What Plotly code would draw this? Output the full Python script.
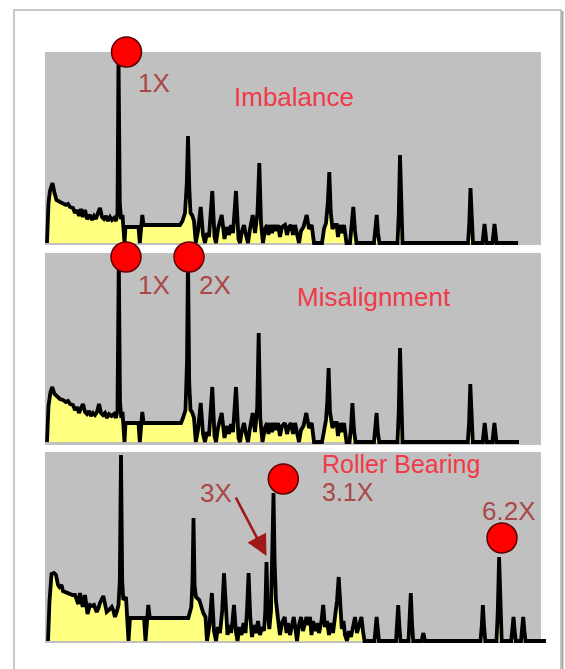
import plotly.graph_objects as go

W, H = 565, 669

# ---------------- data (frequency in px-like units, amplitude) ----------------
f1 = [47, 48.5, 50, 52.5, 54.5, 56.5, 60, 63, 66, 68, 70, 73, 75, 77, 79, 81, 83, 85, 87, 90, 92, 94, 96, 98,
      100, 102, 104, 106, 108, 110, 112, 114, 116, 117.5, 118.5, 119.8, 121, 122.5, 123.5, 124.5, 125.5, 138.5,
      139.8, 141, 142.3, 143.6, 180, 182.5, 185, 186.8, 188, 189.3, 190.5, 192, 194, 195.8,
      198, 200.7, 203, 205, 207, 209, 212.3, 214.5, 216, 218, 221.7, 224.5, 226.5, 229, 231, 233, 236, 238.5,
      240, 242, 244, 246, 248, 250, 252.7, 255, 257.5, 259.3, 261, 263, 265, 267, 268.5, 270, 272, 274, 276,
      278, 280, 282, 285, 287, 289, 291, 293, 295, 297, 299, 301, 303.5, 306.7, 309, 311.7, 314, 322, 324, 326,
      327.8, 329.3, 330.8, 332.5, 334.5, 336.7, 338, 340, 342, 344, 346.5, 350, 351.5, 353.3, 355, 356.5, 374,
      375.5, 376.7, 378, 379.5, 397.5, 398.8, 400, 401.2, 402.5, 468, 469.3, 470.5, 471.7, 473, 482.5, 483.5,
      484.5, 485.5, 486.5, 492.5, 493.5, 494.5, 495.5, 496.5, 518]
a1 = [0, 40, 52, 60, 50, 43, 41, 40, 38, 39, 36, 35, 30, 33, 27, 34, 26, 33, 24, 28, 23, 27, 24, 30,
      35, 26, 24, 27, 22, 26, 23, 25, 22, 30, 190, 40, 24, 28, 16, 0, 16, 16,
      0, 16, 28, 18, 18, 22, 30, 60, 107, 55, 30, 28, 22, 0,
      12, 36, 8, 0, 10, 6, 52, 6, 0, 14, 28, 4, 16, 8, 18, 10, 52, 4,
      0, 12, 18, 8, 0, 14, 28, 10, 30, 80, 20, 0, 14, 18, 8, 18, 10, 18, 12,
      18, 6, 16, 18, 8, 16, 18, 8, 18, 10, 0, 12, 16, 28, 14, 18, 0, 0, 14, 20,
      40, 71, 30, 14, 18, 18, 6, 18, 10, 18, 0, 0, 14, 36, 12, 0, 0,
      12, 28, 10, 0, 0, 30, 88, 30, 0, 0, 20, 55, 20, 0, 0, 10,
      19, 10, 0, 0, 10, 19, 10, 0, 0]

f2 = [47, 48.5, 50.5, 52.3, 54.5, 57.7, 60, 63, 66, 68, 70, 73, 75, 77, 79, 81, 83, 85, 87, 89, 91, 93, 95, 97,
      99, 101, 103, 105, 107, 109, 111.7, 114, 116, 117.5, 118.8, 120, 121.3, 122.5, 123.5, 124.5, 125.5, 138.5,
      139.8, 141, 142.3, 143.6, 181, 183, 185.5, 187, 188, 189.2, 190.5, 192, 194, 195.8,
      198, 200.7, 203, 205, 207, 209, 212.3, 214.5, 216, 218, 221.7, 224.5, 226.5, 229, 231, 233, 236, 238.5,
      240, 242, 244, 246, 248, 250, 252.7, 255, 257.2, 258.7, 260.2, 262.5, 265, 267, 268.5, 270, 272, 274, 276,
      278, 280, 282, 285, 287, 289, 291, 293, 295, 297, 299, 301, 303.5, 306.3, 309, 311.7, 314, 322, 324, 326,
      327.3, 328.6, 330, 332.5, 334.5, 336.7, 338, 340, 342, 344, 346.5, 349.5, 351, 352.4, 354, 355.5, 374,
      375.4, 376.6, 377.8, 379.2, 397.5, 398.8, 400, 401.2, 402.5, 467.8, 469.1, 470.3, 471.5, 472.8, 482.7, 483.7,
      484.7, 485.7, 486.7, 492.4, 493.4, 494.4, 495.4, 496.4, 519]
a2 = [0, 36, 50, 55, 48, 45, 43, 42, 40, 41, 38, 37, 32, 35, 29, 34, 38, 30, 28, 31, 26, 29, 27, 30,
      38, 29, 27, 29, 24, 28, 26, 28, 24, 32, 185, 40, 24, 30, 19, 0, 19, 19,
      0, 17, 30, 19, 19, 24, 32, 80, 185, 60, 32, 30, 24, 0,
      12, 39, 8, 0, 10, 6, 55, 6, 0, 14, 29, 4, 16, 8, 18, 10, 55, 4,
      0, 12, 19, 8, 0, 14, 29, 10, 34, 109, 24, 0, 14, 19, 8, 19, 10, 19, 12,
      19, 6, 16, 19, 8, 16, 19, 8, 19, 10, 0, 12, 16, 29, 14, 19, 0, 0, 14, 22,
      40, 74, 30, 14, 19, 19, 6, 19, 10, 19, 0, 0, 14, 39, 12, 0, 0,
      12, 29, 10, 0, 0, 32, 94, 32, 0, 0, 20, 58, 20, 0, 0, 10,
      19, 10, 0, 0, 10, 19, 10, 0, 0]

f3 = [48, 49.5, 51.5, 54, 56, 58, 59.5, 61.5, 63, 65, 67.5, 70, 72.5, 75, 77, 78.3, 80, 81.5, 82.7, 85, 86.3,
      87.5, 90, 92, 94, 96.7, 98.5, 100, 103.3, 105, 106.7, 109, 111.7, 113.5, 115, 117, 118.5, 119.8, 121,
      122.2, 123.3, 126, 127.3, 128.5, 130, 144, 145.5, 147, 148.3, 149.8, 188.3, 191.3, 192.5, 193.5, 194.6,
      196, 199.3, 203.3, 205.5, 207,
      209.5, 211.9, 214, 216, 218, 220, 222.2, 224, 225.8, 227.5, 229.5, 231, 232.5, 234, 235.8, 237.5, 239.5,
      241.5, 243.5, 245.5, 247, 248.6, 250.2, 252, 254, 256, 258, 260, 262, 264, 265.3, 266.5, 267.7, 269.3,
      271, 272.4, 273.5, 274.6, 276, 278, 280, 282, 284.7, 286.5, 288, 290, 292, 293.8, 295.5, 297, 299, 301,
      303, 305, 306.5, 308, 310, 311.5, 313, 315, 317, 319, 321.5, 323.2, 325, 327, 329, 331, 333, 335, 337,
      338.7, 340.2, 341.8, 343.5, 345, 347, 349, 351, 353, 355, 357, 359, 361.4, 363, 364.5, 374.5, 375.5,
      376.6, 377.8, 379, 396, 397, 398.2, 399.4, 400.5, 408.5, 409.6, 410.8, 412, 413.2, 421.5, 423.4, 425,
      480.5, 481.7, 482.9, 484.1, 485.3, 496.5, 497.8, 499.1, 500.4, 501.7, 511.2, 512.3, 513.5, 514.7, 515.8,
      521, 522, 523.2, 524.4, 525.5, 546]
a3 = [0, 40, 67, 68, 66, 56, 54, 56, 50, 49, 48, 47, 46, 46, 40, 37, 48, 40, 34, 46, 34,
      27, 36, 35, 36, 29, 33, 38, 45, 35, 29, 31, 34, 30, 24, 30, 36, 60, 186,
      60, 41, 44, 24, 0, 23, 23, 0, 20, 36, 23, 23, 34, 60, 123, 55,
      44, 41, 28, 24, 0,
      16, 48, 10, 0, 14, 8, 30, 68, 25, 6, 16, 8, 20, 36, 10, 0, 14,
      6, 18, 8, 30, 68, 25, 4, 16, 8, 20, 6, 14, 10, 30, 79, 30, 12,
      30, 80, 148, 80, 40, 22, 6, 18, 24, 8, 18, 6, 18, 24, 12, 0, 16, 24,
      10, 20, 24, 16, 24, 6, 20, 10, 18, 8, 20, 36, 14, 20, 6, 18, 8, 24, 40,
      64, 30, 12, 20, 6, 0, 10, 4, 16, 24, 8, 14, 24, 10, 0, 0, 12,
      24, 12, 0, 0, 14, 36, 14, 0, 0, 18, 48, 18, 0, 0, 8, 0,
      0, 14, 36, 14, 0, 0, 30, 84, 30, 0, 0, 10, 24, 10, 0,
      0, 10, 24, 10, 0, 0]

# highlighted components (red dots): frequency, amplitude
dot1_f, dot1_a = [126.5], [191]
dot2_f, dot2_a = [126, 189], [185, 185]
dot3_f, dot3_a = [283.3, 502], [162, 103]

# text labels
titles = ["Imbalance", "Misalignment", "Roller Bearing"]
labels1 = ["1X"]
labels2 = ["1X", "2X"]
labels3 = ["3X", "3.1X", "6.2X"]

# ---------------- layout geometry (pixels) ----------------
baselines = [243, 442, 641]
panel_px = [(20, 247), (249, 447), (449, 648)]
gray_px = [(52, 245), (253, 445), (452, 643)]

FONT = "Liberation Sans, Arial, sans-serif"
TITLE_C = "#f03a48"
LABEL_C = "#a84848"
YELLOW = "#ffff80"
GRAY = "#c0c0c0"

fig = go.Figure()
yrefs = ["y", "y2", "y3"]
spectra = [(f1, a1), (f2, a2), (f3, a3)]
dots = [(dot1_f, dot1_a), (dot2_f, dot2_a), (dot3_f, dot3_a)]
for i, ((fx, ax_), (df, da)) in enumerate(zip(spectra, dots)):
    fig.add_trace(go.Scatter(x=fx, y=ax_, mode="lines", fill="tozeroy", fillcolor=YELLOW,
                             line=dict(color="black", width=3.8), yaxis=yrefs[i],
                             hoverinfo="skip", showlegend=False))
    fig.add_trace(go.Scatter(x=df, y=da, mode="markers", yaxis=yrefs[i], cliponaxis=False,
                             marker=dict(size=30, color="#ff0000", line=dict(color="#5a0000", width=1.5)),
                             hoverinfo="skip", showlegend=False))

layout_axes = {}
for i, ((top, bot), base) in enumerate(zip(panel_px, baselines)):
    name = "yaxis" if i == 0 else f"yaxis{i+1}"
    layout_axes[name] = dict(domain=[(H - bot) / H, (H - top) / H], range=[base - bot, base - top],
                             visible=False, fixedrange=True)

shapes = []
# outer frame
shapes.append(dict(type="rect", xref="paper", yref="paper", x0=14 / W, x1=561 / W, y0=-0.05, y1=1 - 10 / H,
                   line=dict(color="#c8c8c8", width=2), fillcolor="white", layer="below"))
shapes.append(dict(type="line", xref="paper", yref="paper", x0=562.5 / W, x1=562.5 / W, y0=-0.05, y1=1 - 11 / H,
                   line=dict(color="#a8a8a8", width=2), layer="below"))
for (gt, gb) in gray_px:
    shapes.append(dict(type="rect", xref="paper", yref="paper", x0=45 / W, x1=541 / W,
                       y0=1 - gb / H, y1=1 - gt / H, line=dict(width=0), fillcolor=GRAY, layer="below"))

ann = []
def txt(text, x, ypx, panel, color, anchor="center", size=26):
    ann.append(dict(text=text, x=x, y=baselines[panel] - ypx, xref="x", yref=yrefs[panel],
                    showarrow=False, xanchor=anchor, yanchor="middle", borderpad=0,
                    font=dict(family=FONT, size=size, color=color)))

txt(labels1[0], 153.5, 83, 0, LABEL_C)
txt(titles[0], 293.5, 97, 0, TITLE_C)
txt(labels2[0], 154, 285, 1, LABEL_C)
txt(labels2[1], 214.5, 285, 1, LABEL_C)
txt(titles[1], 374, 297, 1, TITLE_C)
txt(titles[2], 321, 464, 2, TITLE_C, "left", 25)
txt(labels3[1], 321, 492, 2, LABEL_C, "left", 25)
txt(labels3[0], 216, 493, 2, LABEL_C)
txt(labels3[2], 508.5, 511, 2, LABEL_C)
# arrow pointing at the 3X component
ann.append(dict(text="", x=266.5, y=641 - 556, xref="x", yref="y3", ax=235, ay=641 - 496,
                axref="x", ayref="y3", showarrow=True, arrowhead=2, arrowsize=1.6, arrowwidth=2.6,
                arrowcolor="#a01818"))

fig.update_layout(width=W, height=H, margin=dict(l=0, r=0, t=0, b=0),
                  paper_bgcolor="white", plot_bgcolor="rgba(0,0,0,0)",
                  xaxis=dict(domain=[0, 1], range=[0, W], visible=False, fixedrange=True),
                  shapes=shapes, annotations=ann, **layout_axes)
fig.write_html("out.html", config={"displayModeBar": False},
               post_script="document.body.style.margin='0';document.body.style.padding='0';")
